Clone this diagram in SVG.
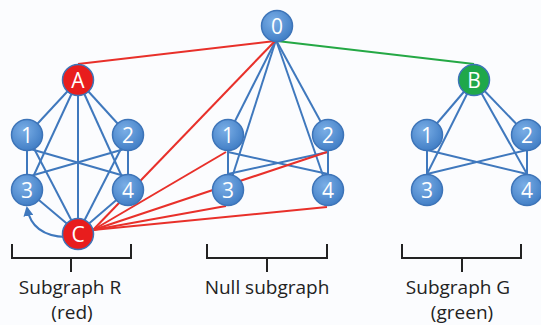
<svg xmlns="http://www.w3.org/2000/svg" width="541" height="325" viewBox="0 0 541 325">
<style>
.b{stroke:#3f78bd;stroke-width:2;fill:none}
.r{stroke:#e8302a;stroke-width:2;fill:none}
.g{stroke:#24a845;stroke-width:2;fill:none}
.k{stroke:#222;stroke-width:2;fill:none}
.n circle{stroke:#3d74b8;stroke-width:1.5}
.n text{font-family:"Open Sans","Liberation Sans",sans-serif;font-size:21px;fill:#fff;text-anchor:middle}
.lbl{font-family:"Open Sans","Liberation Sans",sans-serif;font-size:19px;fill:#222;text-anchor:middle}
</style>
<defs>
<radialGradient id="gb" cx="0.4" cy="0.35" r="0.7">
<stop offset="0" stop-color="#7aaee6"/><stop offset="1" stop-color="#3f7cc4"/>
</radialGradient>
<marker id="ah" viewBox="0 0 10 10" refX="8" refY="5" markerWidth="5" markerHeight="5" orient="auto">
<path d="M0,0 L10,5 L0,10 z" fill="#3f78bd"/>
</marker>
</defs>
<rect width="541" height="325" fill="#fbfcfe"/>
<g id="connectors">
<line class="b" x1="78" y1="80" x2="27" y2="135"/>
<line class="b" x1="78" y1="80" x2="128" y2="135"/>
<line class="b" x1="78" y1="80" x2="27" y2="190"/>
<line class="b" x1="78" y1="80" x2="128" y2="190"/>
<line class="b" x1="78" y1="80" x2="78" y2="233"/>
<line class="b" x1="27" y1="135" x2="27" y2="190"/>
<line class="b" x1="128" y1="135" x2="128" y2="190"/>
<line class="b" x1="27" y1="148" x2="128" y2="177"/>
<line class="b" x1="128" y1="148" x2="27" y2="177"/>
<line class="b" x1="27" y1="135" x2="78" y2="233"/>
<line class="b" x1="128" y1="135" x2="78" y2="233"/>
<line class="b" x1="27" y1="190" x2="78" y2="233"/>
<line class="b" x1="128" y1="190" x2="78" y2="233"/>
<path class="b" d="M66,237 Q32,236 27,208" marker-end="url(#ah)"/>
<line class="b" x1="276" y1="40" x2="228" y2="135"/>
<line class="b" x1="276" y1="40" x2="228" y2="190"/>
<line class="b" x1="276" y1="40" x2="328" y2="135"/>
<line class="b" x1="276" y1="40" x2="328" y2="190"/>
<line class="b" x1="228" y1="135" x2="228" y2="190"/>
<line class="b" x1="328" y1="135" x2="328" y2="190"/>
<line class="b" x1="228" y1="152" x2="328" y2="174"/>
<line class="b" x1="328" y1="152" x2="228" y2="174"/>
<line class="b" x1="474" y1="80" x2="427" y2="135"/>
<line class="b" x1="474" y1="80" x2="527" y2="135"/>
<line class="b" x1="474" y1="80" x2="427" y2="174"/>
<line class="b" x1="474" y1="80" x2="527" y2="174"/>
<line class="b" x1="427" y1="135" x2="427" y2="190"/>
<line class="b" x1="527" y1="135" x2="527" y2="190"/>
<line class="b" x1="427" y1="150" x2="527" y2="174"/>
<line class="b" x1="527" y1="150" x2="427" y2="174"/>
<line class="r" x1="78" y1="64" x2="275" y2="41"/>
<line class="g" x1="277" y1="41" x2="474" y2="64"/>
<line class="r" x1="93" y1="230" x2="275" y2="41"/>
<line class="r" x1="93" y1="230" x2="226" y2="152"/>
<line class="r" x1="93" y1="230" x2="327" y2="152"/>
<line class="r" x1="93" y1="230" x2="226" y2="206"/>
<line class="r" x1="93" y1="230" x2="327" y2="207"/>
</g>
<g id="n0" class="n"><circle cx="277" cy="26" r="15.5" fill="url(#gb)"/><text x="277" y="33.5">0</text></g>
<g id="nA" class="n"><circle cx="78" cy="80" r="15.5" fill="#e81d1d"/><text x="78" y="87.5">A</text></g>
<g id="nL1" class="n"><circle cx="27" cy="135" r="15.5" fill="url(#gb)"/><text x="27" y="142.5">1</text></g>
<g id="nL2" class="n"><circle cx="128" cy="135" r="15.5" fill="url(#gb)"/><text x="128" y="142.5">2</text></g>
<g id="nL3" class="n"><circle cx="27" cy="190" r="15.5" fill="url(#gb)"/><text x="27" y="197.5">3</text></g>
<g id="nL4" class="n"><circle cx="128" cy="190" r="15.5" fill="url(#gb)"/><text x="128" y="197.5">4</text></g>
<g id="nC" class="n"><circle cx="78" cy="234" r="15.5" fill="#e81d1d"/><text x="78" y="241.5">C</text></g>
<g id="nM1" class="n"><circle cx="228" cy="135" r="15.5" fill="url(#gb)"/><text x="228" y="142.5">1</text></g>
<g id="nM2" class="n"><circle cx="328" cy="135" r="15.5" fill="url(#gb)"/><text x="328" y="142.5">2</text></g>
<g id="nM3" class="n"><circle cx="228" cy="190" r="15.5" fill="url(#gb)"/><text x="228" y="197.5">3</text></g>
<g id="nM4" class="n"><circle cx="328" cy="190" r="15.5" fill="url(#gb)"/><text x="328" y="197.5">4</text></g>
<g id="nB" class="n"><circle cx="474" cy="80" r="15.5" fill="#1fa84a"/><text x="474" y="87.5">B</text></g>
<g id="nR1" class="n"><circle cx="427" cy="135" r="15.5" fill="url(#gb)"/><text x="427" y="142.5">1</text></g>
<g id="nR2" class="n"><circle cx="527" cy="135" r="15.5" fill="url(#gb)"/><text x="527" y="142.5">2</text></g>
<g id="nR3" class="n"><circle cx="427" cy="190" r="15.5" fill="url(#gb)"/><text x="427" y="197.5">3</text></g>
<g id="nR4" class="n"><circle cx="527" cy="190" r="15.5" fill="url(#gb)"/><text x="527" y="197.5">4</text></g>
<g id="brackets">
<path class="k" d="M12,244 V258 H131 V244 M71,258 V272"/>
<path class="k" d="M207,244 V258 H327 V244 M267,258 V272"/>
<path class="k" d="M402,244 V258 H521 V244 M462,258 V272"/>
<text class="lbl" x="70" y="294">Subgraph R</text>
<text class="lbl" x="72" y="319">(red)</text>
<text class="lbl" x="267" y="294">Null subgraph</text>
<text class="lbl" x="458" y="294">Subgraph G</text>
<text class="lbl" x="462" y="319">(green)</text>
</g>
</svg>
